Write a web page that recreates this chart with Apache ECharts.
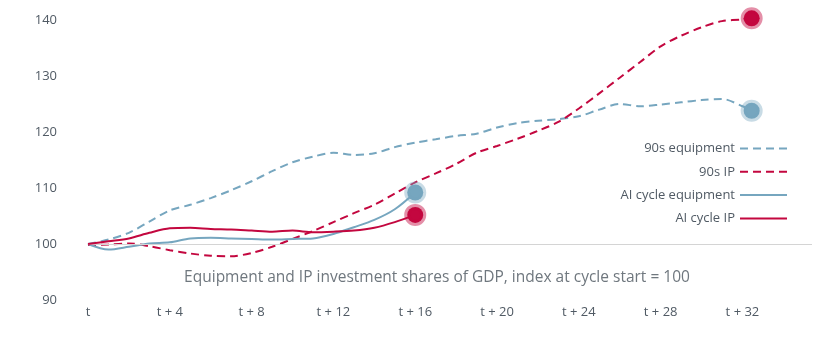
<!DOCTYPE html>
<html>
<head>
<meta charset="utf-8">
<script src="https://cdn.jsdelivr.net/npm/echarts@6/dist/echarts.min.js"></script>
<style>
html,body{margin:0;padding:0;background:#fff;}
#chart{width:814px;height:353px;}
</style>
</head>
<body>
<div id="chart"></div>
<script>
// Quarters since cycle start
const quarters90 = [0,1,2,3,4,5,6,7,8,9,10,11,12,13,14,15,16,17,18,19,20,21,22,23,24,25,26,27,28,29,30,31,32,32.45];
const quartersAI = [0,1,2,3,4,5,6,7,8,9,10,11,12,13,14,15,16];

const equipment90s = [100,100.8,102,104,106,107,108.2,109.6,111.2,113,114.6,115.6,116.3,115.9,116.2,117.3,118.1,118.7,119.3,119.7,120.8,121.6,122,122.3,122.8,124,125,124.6,124.9,125.3,125.7,125.9,124.6,123.8];
const ip90s = [99.8,99.9,100.1,99.6,98.9,98.3,97.9,97.8,98.4,99.5,100.9,102.3,103.9,105.5,107.0,109.0,111.0,112.6,114.3,116.3,117.5,118.8,120.2,121.8,124.2,126.9,129.7,132.5,135.3,137.2,138.7,139.8,140.1,140.3];
const equipmentAI = [100,99.0,99.5,100.1,100.3,101.0,101.1,101.0,100.9,100.8,100.9,101.0,101.8,103.0,104.3,106.2,109.2];
const ipAI = [100,100.5,101.0,102.0,102.8,102.9,102.7,102.6,102.4,102.2,102.4,102.1,102.2,102.4,102.9,103.9,105.2];

const seriesNames = ['90s equipment','90s IP','AI cycle equipment','AI cycle IP'];
const xTickStep = 4;
const note = 'Equipment and IP investment shares of GDP, index at cycle start = 100';

const BLUE = '#76a6bf';
const RED = '#c3073f';
const BLUE_HALO = 'rgba(118,166,191,0.4)';
const RED_HALO = 'rgba(195,7,63,0.45)';

function build(xs, ys, color, halo) {
  return xs.map((x, i) => {
    if (i === xs.length - 1) {
      return {
        value: [x, ys[i]],
        symbol: 'circle',
        symbolSize: 16,
        itemStyle: { color: color, borderColor: halo, borderWidth: 6 }
      };
    }
    return [x, ys[i]];
  });
}

const chart = echarts.init(document.getElementById('chart'), null, { renderer: 'canvas' });
const font = '"Open Sans", "Noto Sans", sans-serif';

chart.setOption({
  animation: false,
  backgroundColor: '#ffffff',
  textStyle: { fontFamily: font },
  grid: { left: 88, right: 2, top: 20, bottom: 53, containLabel: false },
  xAxis: {
    type: 'value',
    min: 0,
    max: 35.4,
    interval: xTickStep,
    axisLine: { show: false },
    axisTick: { show: false },
    splitLine: { show: false },
    axisLabel: {
      color: '#505a64',
      fontSize: 13,
      fontFamily: font,
      margin: 6,
      showMaxLabel: false,
      formatter: function (v) {
        if (v === 0) return 't';
        if (v % xTickStep === 0) return 't + ' + v;
        return '';
      }
    }
  },
  yAxis: {
    type: 'value',
    min: 90,
    max: 140,
    interval: 10,
    axisLine: { show: false },
    axisTick: { show: false },
    splitLine: { show: false },
    axisLabel: { color: '#505a64', fontSize: 13, fontFamily: font, margin: 31 }
  },
  legend: {
    orient: 'vertical',
    right: 21,
    top: 137,
    align: 'right',
    itemWidth: 47,
    itemHeight: 14,
    itemGap: 10.3,
    itemStyle: { opacity: 0 },
    textStyle: { color: '#505a64', fontSize: 13, fontFamily: font },
    data: seriesNames
  },
  graphic: [{
    type: 'text',
    x: 437,
    y: 278,
    silent: true,
    style: {
      text: note,
      fill: '#6f777e',
      font: '15.5px ' + font,
      textAlign: 'center',
      textVerticalAlign: 'middle'
    }
  }],
  series: [
    {
      name: seriesNames[0], type: 'line', smooth: 0.3, symbol: 'none', clip: false,
      lineStyle: { color: BLUE, width: 2, type: [8, 5] },
      itemStyle: { color: BLUE },
      data: build(quarters90, equipment90s, BLUE, BLUE_HALO),
      markLine: {
        silent: true, symbol: 'none', label: { show: false },
        lineStyle: { color: '#d4d4d4', width: 1, type: 'solid' },
        data: [{ yAxis: 100 }]
      },
      z: 2
    },
    {
      name: seriesNames[1], type: 'line', smooth: 0.3, symbol: 'none', clip: false,
      lineStyle: { color: RED, width: 2, type: [8, 5] },
      itemStyle: { color: RED },
      data: build(quarters90, ip90s, RED, RED_HALO),
      z: 3
    },
    {
      name: seriesNames[2], type: 'line', smooth: 0.3, symbol: 'none', clip: false,
      lineStyle: { color: BLUE, width: 2 },
      itemStyle: { color: BLUE },
      data: build(quartersAI, equipmentAI, BLUE, BLUE_HALO),
      z: 4
    },
    {
      name: seriesNames[3], type: 'line', smooth: 0.3, symbol: 'none', clip: false,
      lineStyle: { color: RED, width: 2 },
      itemStyle: { color: RED },
      data: build(quartersAI, ipAI, RED, RED_HALO),
      z: 5
    }
  ]
});
</script>
</body>
</html>
